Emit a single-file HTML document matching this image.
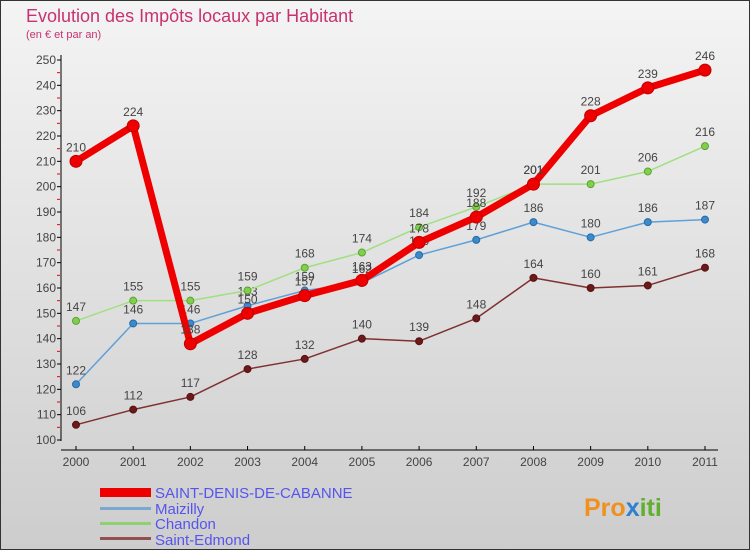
<!DOCTYPE html>
<html><head><meta charset="utf-8"><style>
body{margin:0}
#c{width:750px;height:550px;position:relative;overflow:hidden;background:linear-gradient(#f4f4f4,#cdcdcd);font-family:"Liberation Sans","DejaVu Sans",sans-serif}
</style></head><body>
<div id="c">
<svg id="s" width="750" height="550" xmlns="http://www.w3.org/2000/svg">
<rect x="0.5" y="0.5" width="749" height="549" fill="none" stroke="#333"/>
<text x="26" y="22" font-size="18" fill="#c8326e">Evolution des Impôts locaux par Habitant</text>
<text x="26" y="38" font-size="11" fill="#c8326e">(en € et par an)</text>
<g id="ax"></g><g id="ser"></g>
<g font-size="15" fill="#5555ee">
<rect x="100" y="488" width="51" height="9" fill="#e00"/>
<text x="155" y="498">SAINT-DENIS-DE-CABANNE</text>
<rect x="100" y="507" width="51" height="3" fill="#7aa8d0"/>
<text x="155" y="514">Maizilly</text>
<rect x="100" y="522" width="51" height="3" fill="#90d070"/>
<text x="155" y="529">Chandon</text>
<rect x="100" y="537" width="51" height="3" fill="#905050"/>
<text x="155" y="545">Saint-Edmond</text>
</g>
<text x="584" y="516" font-size="25" font-weight="bold" fill="#f09020">Pro<tspan fill="#3080d0">x</tspan><tspan fill="#60b030">iti</tspan></text>
</svg></div>
<script>
const years=[2000,2001,2002,2003,2004,2005,2006,2007,2008,2009,2010,2011];
const yTicks=[100,110,120,130,140,150,160,170,180,190,200,210,220,230,240,250];
const sdValues=[210,224,138,150,157,163,178,188,201,228,239,246];
const maValues=[122,146,146,153,159,162,173,179,186,180,186,187];
const chValues=[147,155,155,159,168,174,184,192,201,201,206,216];
const seValues=[106,112,117,128,132,140,139,148,164,160,161,168];
const NS="http://www.w3.org/2000/svg";
const xs=i=>76+i*(629/11);
const ys=v=>440-(v-100)*380/150;
function mk(t,a,p){const e=document.createElementNS(NS,t);for(const k in a)e.setAttribute(k,a[k]);p.appendChild(e);return e;}
const ax=document.getElementById('ax');
let l=mk('line',{x1:61,y1:55,x2:61,y2:441,stroke:'#000'},ax);

l=mk('line',{x1:61,y1:450,x2:718,y2:450,stroke:'#000'},ax);

yTicks.forEach(v=>{
 mk('line',{x1:57,x2:61,y1:ys(v),y2:ys(v),stroke:'#000'},ax);
 if(v<250)mk('line',{x1:57,x2:60,y1:ys(v+5),y2:ys(v+5),stroke:'#e00'},ax);
 const t=mk('text',{x:56,y:ys(v)+4,'font-size':12,'text-anchor':'end',fill:'#444'},ax);t.textContent=v;
 
});
years.forEach((y,i)=>{
 mk('line',{x1:xs(i),x2:xs(i),y1:446,y2:450,stroke:'#000'},ax);
 const t=mk('text',{x:xs(i),y:466,'font-size':12,'text-anchor':'middle',fill:'#444'},ax);t.textContent=y;
 
});
const ser=document.getElementById('ser');
function draw(vals,name,color,w,r,dot,dotStroke){
 const g=mk('g',{},ser);
 
 const p=mk('polyline',{points:vals.map((v,i)=>xs(i)+','+ys(v)).join(' '),fill:'none',stroke:color,'stroke-width':w,'stroke-linejoin':'round'},g);
 
 vals.forEach((v,i)=>{
  const c=mk('circle',{cx:xs(i),cy:ys(v),r:r,fill:dot,stroke:dotStroke,'stroke-width':1},g);
  
  const t=mk('text',{x:xs(i),y:ys(v)-10,'font-size':12,'text-anchor':'middle',fill:'#444'},g);t.textContent=v;
  
 });
}
draw(seValues,'saint-edmond','#803030',1.5,3.5,'#6a1a1a','#5a1010');
draw(maValues,'maizilly','#60a0d8',1.5,3.5,'#3a8ad0','#2a6aa0');
draw(chValues,'chandon','#a0e080',1.5,3.5,'#80d050','#60a030');
draw(sdValues,'saint-denis','#ee0000',7,6,'#ee0000','#c00000');
</script>
</body></html>
